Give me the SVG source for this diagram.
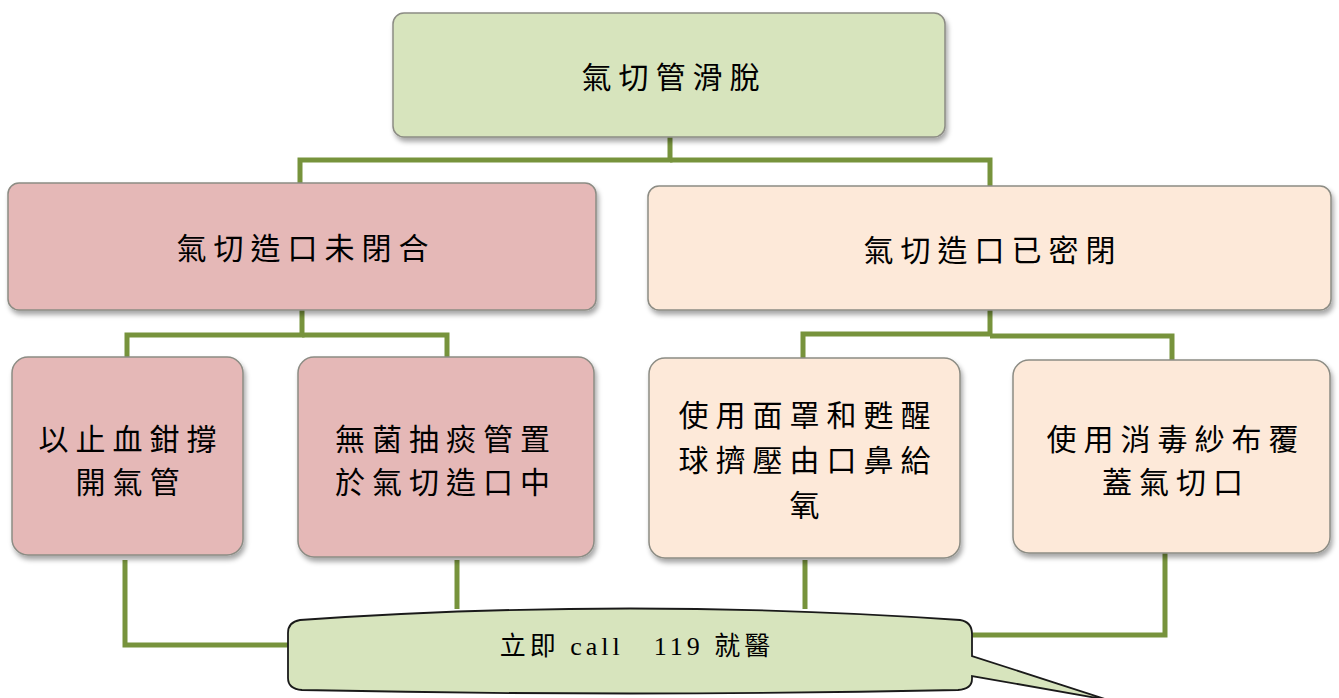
<svg xmlns="http://www.w3.org/2000/svg" width="1339" height="698" viewBox="0 0 1339 698">
<defs>
<filter id="sh" x="-10%" y="-10%" width="130%" height="130%">
<feDropShadow dx="2" dy="4" stdDeviation="2.5" flood-color="#000" flood-opacity="0.35"/>
</filter>
</defs>
<style>
.box{stroke:#8c8c84;stroke-width:1.5;filter:url(#sh)}
.g{fill:#d7e4bd}
.r{fill:#e5b8b7}
.p{fill:#fde9d9}
.t{font-family:"Noto Sans CJK TC","Noto Sans CJK SC",sans-serif;fill:#000;text-anchor:middle;dominant-baseline:central}
.big{font-size:30px;letter-spacing:7px}
.mid{font-size:30px;letter-spacing:7px}
.ln{fill:none;stroke:#77933c;stroke-width:5;stroke-linejoin:miter}
.c{font-family:"Liberation Serif","Noto Sans CJK TC",serif;font-size:26px;letter-spacing:4px;fill:#000;text-anchor:middle;dominant-baseline:central}
</style>
<rect width="1339" height="698" fill="#fff"/>
<g id="connectors">
<polyline class="ln" points="670,137 670,160 300,160 300,184"/>
<polyline class="ln" points="670,160 990,160 990,187"/>
<polyline class="ln" points="302,310 302,335 127,335 127,358"/>
<polyline class="ln" points="302,335 447,335 447,358"/>
<polyline class="ln" points="990,310 990,334 803,334 803,358"/>
<polyline class="ln" points="990,336 1172,336 1172,361"/>
<polyline class="ln" points="125,560 125,645 292,645"/>
<polyline class="ln" points="457,560 457,609"/>
<polyline class="ln" points="805,560 805,609"/>
<polyline class="ln" points="1165,552 1165,635 970,635"/>
</g>
<g id="n-root">
<rect class="box g" x="393" y="13" width="552" height="124" rx="11"/>
<text class="t big" x="674" y="75">氣切管滑脫</text>
</g>
<g id="n-open">
<rect class="box r" x="8" y="183" width="588" height="127" rx="11"/>
<text class="t big" x="306" y="246">氣切造口未閉合</text>
</g>
<g id="n-closed">
<rect class="box p" x="648" y="186" width="683" height="124" rx="11"/>
<text class="t big" x="993" y="248">氣切造口已密閉</text>
</g>
<g id="n-a">
<rect class="box r" x="12" y="357" width="231" height="198" rx="16"/>
<text class="t mid" x="131" y="437">以止血鉗撐</text>
<text class="t mid" x="131" y="480">開氣管</text>
</g>
<g id="n-b">
<rect class="box r" x="298" y="357" width="296" height="200" rx="16"/>
<text class="t mid" x="446" y="437">無菌抽痰管置</text>
<text class="t mid" x="446" y="480">於氣切造口中</text>
</g>
<g id="n-c">
<rect class="box p" x="649" y="358" width="311" height="200" rx="16"/>
<text class="t mid" x="808" y="413">使用面罩和甦醒</text>
<text class="t mid" x="808" y="458">球擠壓由口鼻給</text>
<text class="t mid" x="808" y="503">氧</text>
</g>
<g id="n-d">
<rect class="box p" x="1013" y="360" width="317" height="193" rx="16"/>
<text class="t mid" x="1176" y="437">使用消毒紗布覆</text>
<text class="t mid" x="1176" y="480">蓋氣切口</text>
</g>
<g id="n-call">
<path d="M300,620 Q630,597 960,620 Q972,622 972,634 L972,656 L1108,700 L972,676 L972,679 Q972,689 958,690 Q630,697 302,690 Q288,689 288,678 L288,633 Q288,622 300,620 Z" fill="#d7e4bd" stroke="#1a1a1a" stroke-width="1.8"/>
<text class="c" x="637" y="646">立即 call　119 就醫</text>
</g>
</svg>
